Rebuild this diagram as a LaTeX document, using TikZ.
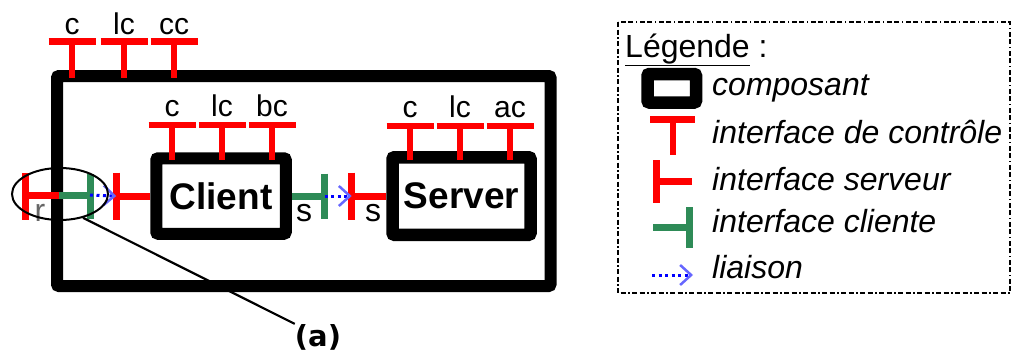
\documentclass[tikz,border=0pt]{standalone}
\usepackage{fontspec}
\setmainfont{Liberation Sans}
\newfontfamily\tagfont{DejaVu Sans}
\usetikzlibrary{arrows.meta,shapes.geometric}
\definecolor{ifgreen}{RGB}{46,139,87}
\tikzset{
  compbox/.style={draw=black, line width=12pt, fill=white, rounded corners=2pt, inner sep=0pt},
  ctrl/.style={red, line width=6.5pt},
  srv/.style={red, line width=7pt},
  cli/.style={ifgreen, line width=7pt},
  liaison/.style={blue, line width=3pt, dash pattern=on 3pt off 3.5pt,
    -{Straight Barb[length=11pt,width=20pt,line width=2.5pt,color=blue!60]}},
  lbl/.style={font=\fontsize{30}{30}\selectfont, inner sep=0pt, anchor=base},
  leg/.style={font=\fontsize{32}{32}\selectfont\itshape, inner sep=0pt, anchor=base west},
}

\begin{document}
\begin{tikzpicture}[x=1pt,y=-1pt]
        \useasboundingbox (0,0) rectangle (1011,354);
        % composite and its subcomponents
        \node[compbox, minimum width=493.5pt, minimum height=210pt] (comp) at (303.75,181) {};
        \node[compbox, minimum width=129.5pt, minimum height=75.5pt,
              font=\fontsize{37}{37}\selectfont\bfseries] (client) at (221,196) {Client};
        \node[compbox, line width=12.5pt, minimum width=138pt, minimum height=77.5pt,
              font=\fontsize{37}{37}\selectfont\bfseries] (server) at (461.5,196) {Server};
        % control interfaces
        \foreach \x/\t [count=\i] in {72/c,124/lc,174/cc}{
          \draw[ctrl] (\x-23.5,41.5) -- (\x+23.5,41.5);
          \draw[ctrl] (\x,41.5) -- (\x,78);
          \node[lbl] (comp-c\i) at (\x,34) {\t};
        }
        \foreach \x/\t [count=\i] in {172/c,222/lc,272/bc}{
          \draw[ctrl] (\x-23.5,125) -- (\x+23.5,125);
          \draw[ctrl] (\x,125) -- (\x,160);
          \node[lbl] (client-c\i) at (\x,116) {\t};
        }
        \foreach \x/\t [count=\i] in {410/c,460/lc,510/ac}{
          \draw[ctrl] (\x-23.5,126) -- (\x+23.5,126);
          \draw[ctrl] (\x,126) -- (\x,160);
          \node[lbl] (server-c\i) at (\x,117) {\t};
        }
        % server and client interfaces
        \draw[srv] (25,173) -- (25,220);
        \draw[srv] (25,195) -- (59,195);
        \draw[cli] (59,195) -- (90,195) coordinate (comp-r);
        \draw[cli] (90,174) -- (90,219);
        \node[lbl, text=black!60, font=\fontsize{32}{32}\selectfont] (lbl-r) at (40,221) {r};
        \draw[srv] (client.west) -- ++(-34,0) coordinate (client-r);
        \draw[srv] (client-r) ++(0,-23.5) -- ++(0,47);
        \draw[cli] (client.east) -- ++(33,0) coordinate (client-s);
        \draw[cli] (client-s) ++(0,-22.5) -- ++(0,45);
        \node[lbl, font=\fontsize{32}{32}\selectfont] (lbl-s1) at (304,221) {s};
        \draw[srv] (server.west) -- ++(-34.5,0) coordinate (server-s);
        \draw[srv] (server-s) ++(0,-23.5) -- ++(0,47);
        \node[lbl, font=\fontsize{32}{32}\selectfont] (lbl-s2) at (373,221) {s};
        % bindings
        \draw[liaison] (comp-r) -- (client-r);
        \draw[liaison] (client-s) -- (server-s);
        % zoom mark
        \node[draw, ellipse, line width=2pt, minimum width=96pt, minimum height=52pt, inner sep=0pt] (zoomarea) at (60,194) {};
        \node[font=\tagfont\bfseries\fontsize{29}{29}\selectfont, inner sep=0pt] (tag-a) at (318,337) {(a)};
        \draw[line width=2.2pt] (zoomarea.-46) -- (tag-a.north west);
        % legend
        \draw[line width=1.8pt, dash pattern=on 5pt off 2.5pt on 5pt off 2.5pt on 1.5pt off 2.5pt] (618,22) rectangle (1010,293);
        \node[font=\fontsize{32}{32}\selectfont, inner sep=0pt, anchor=base west] (leg-title) at (625,57) {\underline{Légende} :};
        \node[compbox, line width=12.5pt, minimum width=48.5pt, minimum height=28.5pt] (leg-comp) at (671.75,88.25) {};
        \node[leg] (leg-t1) at (712,95) {composant};
        \draw[ctrl] (650,119.5) -- (695,119.5);
        \draw[ctrl] (673,119.5) -- (673,155);
        \node[leg] (leg-t2) at (712,143) {interface de contrôle};
        \draw[srv] (656,160) -- (656,203);
        \draw[srv] (656,181) -- (692,181);
        \node[leg] (leg-t3) at (712,190) {interface serveur};
        \draw[cli] (653,227) -- (689,227);
        \draw[cli] (689,207) -- (689,248);
        \node[leg] (leg-t4) at (712,232) {interface cliente};
        \coordinate (leg-l1) at (652,275);
        \coordinate (leg-l2) at (693,275);
        \draw[liaison] (leg-l1) -- (leg-l2);
        \node[leg] (leg-t5) at (712,278) {liaison};
\end{tikzpicture}
\end{document}
